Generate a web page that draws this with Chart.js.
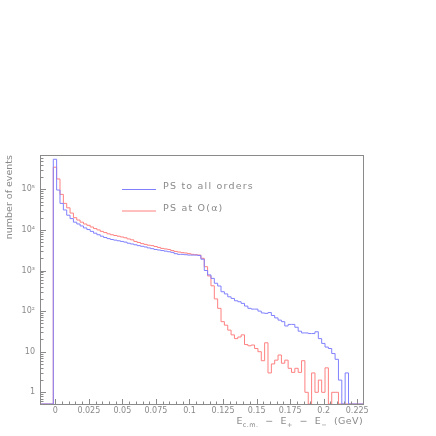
<!DOCTYPE html>
<html>
<head>
<meta charset="utf-8">
<script src="https://cdn.jsdelivr.net/npm/chart.js@4.4.1/dist/chart.umd.min.js"></script>
<style>
  body { margin: 0; background: #fff; }
  #wrap { width: 436px; height: 436px; }
</style>
</head>
<body>
<div id="wrap"><canvas id="chart" width="436" height="436"></canvas></div>
<script>
// histogram binning (GeV)
const binLow = -0.0015;
const binWidth = 0.0025;

// events per bin
const psAllOrders = [
  550000, 96000, 45000, 31000, 23000, 19000, 15500, 14000, 12500, 11200,
  10200, 9200, 8300, 7600, 7000, 6500, 6100, 5800, 5600, 5400,
  5200, 5000, 4700, 4500, 4300, 4100, 3950, 3800, 3600, 3450,
  3300, 3200, 3100, 3000, 2900, 2800, 2600, 2500, 2500, 2450,
  2400, 2400, 2400, 2350, 1900, 1000, 780, 640, 485, 415,
  300, 265, 225, 205, 180, 170, 155, 133, 117, 112,
  112, 100, 90, 88, 92, 78, 68, 60, 55, 43,
  47, 47, 40, 32, 29, 29, 28, 28, 31, 21,
  16, 13, 12, 9, 6.5, 2, 0, 3, 0, 0,
  0, 0
];
const psOrderAlpha = [
  350000, 180000, 75000, 45000, 35000, 26000, 20000, 17500, 15500, 14000,
  13000, 11800, 10800, 10000, 9200, 8600, 8000, 7600, 7300, 7000,
  6700, 6400, 6000, 5700, 5200, 4900, 4600, 4400, 4200, 4100,
  3900, 3700, 3500, 3400, 3300, 3100, 2950, 2850, 2750, 2700,
  2600, 2500, 2450, 2400, 2000, 1240, 735, 420, 200, 117,
  55, 45, 34, 26, 21, 23, 26, 15, 14, 14.6,
  12, 10, 6, 16.6, 3, 5, 6.2, 8.3, 5.2, 6.2,
  3.9, 3.1, 3.9, 3.1, 6, 1, 0, 3, 1, 2,
  1, 4, 0, 1, 1, 0, 0, 0, 0, 0,
  0, 0
];
const seriesNames = ['PS to all orders', 'PS at O(\u03b1)'];

const xTicks = [0, 0.025, 0.05, 0.075, 0.1, 0.125, 0.15, 0.175, 0.2, 0.225];
const xTickLabels = ['0', '0.025', '0.05', '0.075', '0.1', '0.125', '0.15', '0.175', '0.2', '0.225'];
const yTicks = [1, 10, 100, 1000, 10000, 100000];
const yTickLabels = ['1', '10', '10\u00b2', '10\u00b3', '10\u2074', '10\u2075'];

const xMin = -0.0114, xMax = 0.2293;
const yMin = 0.515, yMax = 700000;

const grey = '#8a8a8a';
const font = 'DejaVu Sans';

// turn bin contents into step points (value held from the bin's low edge)
function toSteps(counts) {
  const pts = [{x: xMin, y: yMin}];
  counts.forEach((c, k) => {
    pts.push({x: binLow + k * binWidth, y: c > 0 ? c : yMin});
  });
  pts.push({x: binLow + counts.length * binWidth, y: yMin});
  pts.push({x: xMax, y: yMin});
  return pts;
}

const frame = {
  id: 'frame',
  afterDraw(chart) {
    const {ctx, chartArea: a, scales: {x, y}} = chart;
    ctx.save();
    ctx.strokeStyle = grey;
    ctx.lineWidth = 1;
    ctx.strokeRect(a.left + 0.5, a.top + 0.5, a.right - a.left, a.bottom - a.top);

    // inward tick marks
    ctx.beginPath();
    for (let e = -1; e <= 5; e++) {
      for (let m = 1; m <= 9; m++) {
        const v = m * Math.pow(10, e);
        if (v < y.min || v > y.max) continue;
        const py = Math.round(y.getPixelForValue(v)) + 0.5;
        ctx.moveTo(a.left, py);
        ctx.lineTo(a.left + (m === 1 ? 6 : 3.5), py);
      }
    }
    for (let i = 0; i <= 45; i++) {
      const px = Math.round(x.getPixelForValue(i * 0.005)) + 0.5;
      ctx.moveTo(px, a.bottom);
      ctx.lineTo(px, a.bottom - (i % 5 === 0 ? 5 : 2.5));
    }
    ctx.stroke();

    // legend, in series order
    ctx.font = '9.5px "' + font + '"';
    ctx.letterSpacing = '1.2px';
    ctx.textBaseline = 'middle';
    ctx.fillStyle = grey;
    seriesNames.forEach((name, i) => {
      const ds = chart.data.datasets.find(d => d.label === name);
      const ly = 189 + i * 21.5;
      ctx.strokeStyle = ds.borderColor;
      ctx.beginPath();
      ctx.moveTo(122, ly + 0.5);
      ctx.lineTo(156, ly + 0.5);
      ctx.stroke();
      ctx.fillText(name, 163, ly - 2);
    });
    ctx.letterSpacing = '0px';

    // y title
    ctx.save();
    ctx.translate(10, a.top);
    ctx.rotate(-Math.PI / 2);
    ctx.textAlign = 'right';
    ctx.textBaseline = 'middle';
    ctx.font = '9.5px "' + font + '"';
    ctx.fillText('number of events', 0, 0);
    ctx.restore();

    // x title with subscripts
    const parts = [
      ['E', 0], ['c.m.', 1], ['  \u2212  E', 0], ['+', 1], ['  \u2212  E', 0], ['\u2212', 1], ['  (GeV)', 0]
    ];
    const big = '9.5px "' + font + '"', small = '6.5px "' + font + '"';
    ctx.letterSpacing = '0.4px';
    let w = 0;
    parts.forEach(p => { ctx.font = p[1] ? small : big; w += ctx.measureText(p[0]).width; });
    let tx = a.right - w;
    ctx.textAlign = 'left';
    ctx.textBaseline = 'alphabetic';
    parts.forEach(p => {
      ctx.font = p[1] ? small : big;
      ctx.fillText(p[0], tx, p[1] ? 426.5 : 424);
      tx += ctx.measureText(p[0]).width;
    });
    ctx.restore();
  }
};

new Chart(document.getElementById('chart'), {
  type: 'line',
  data: {
    datasets: [{
      label: seriesNames[0],
      data: toSteps(psAllOrders),
      borderColor: '#8080ff',
      borderWidth: 1,
      pointRadius: 0,
      stepped: true,
      fill: false
    }, {
      label: seriesNames[1],
      data: toSteps(psOrderAlpha),
      borderColor: '#ff8080',
      borderWidth: 1,
      pointRadius: 0,
      stepped: true,
      fill: false
    }]
  },
  options: {
    responsive: false,
    animation: false,
    layout: { padding: { top: 155, right: 73, left: 0, bottom: 0 } },
    plugins: {
      legend: { display: false },
      tooltip: { enabled: false }
    },
    scales: {
      x: {
        type: 'linear',
        min: xMin,
        max: xMax,
        grid: { display: false, drawTicks: false },
        border: { display: false },
        afterBuildTicks: s => { s.ticks = xTicks.map(v => ({value: v})); },
        afterFit: s => { s.height = 32; },
        ticks: {
          autoSkip: false,
          maxRotation: 0,
          padding: 2,
          color: grey,
          font: { family: font, size: 8 },
          callback: (v, i) => xTickLabels[i]
        }
      },
      y: {
        type: 'logarithmic',
        min: yMin,
        max: yMax,
        grid: { display: false, drawTicks: false },
        border: { display: false },
        afterBuildTicks: s => { s.ticks = yTicks.map(v => ({value: v})); },
        afterFit: s => { s.width = 40; },
        ticks: {
          autoSkip: false,
          padding: 5,
          color: grey,
          font: { family: font, size: 8 },
          callback: (v, i) => yTickLabels[i]
        }
      }
    }
  },
  plugins: [frame]
});
</script>
</body>
</html>
